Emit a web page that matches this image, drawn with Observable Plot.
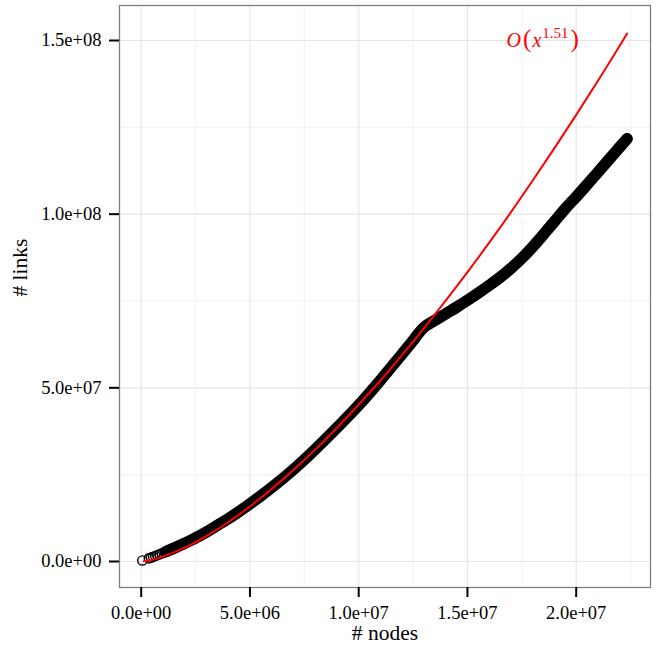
<!DOCTYPE html>
<html><head><meta charset="utf-8">
<script src="https://cdn.jsdelivr.net/npm/d3@7"></script>
<script src="https://cdn.jsdelivr.net/npm/@observablehq/plot@0.6"></script>
<style>body{margin:0;background:#fff}</style>
</head><body><div id="chart"></div>
<script>
// observed data: # nodes vs # links
const nodes = [0.05e6, 0.35e6, 0.45e6, 0.55e6, 0.65e6, 0.75e6, 0.85e6, 0.95e6, 1.1e6, 1.25e6, 1.4e6, 1.6e6, 1.8e6, 2.0e6, 2.25e6, 2.5e6, 2.75e6, 3.0e6, 3.5e6, 4.0e6, 4.5e6, 5.0e6, 5.5e6, 6.0e6, 7.0e6, 8.0e6, 9.0e6, 10.0e6, 11.0e6, 12.0e6, 12.5e6, 12.75e6, 13.0e6, 13.5e6, 14.0e6, 14.5e6, 15.0e6, 15.5e6, 16.0e6, 16.5e6, 17.0e6, 17.5e6, 18.0e6, 18.5e6, 19.0e6, 19.5e6, 20.0e6, 20.5e6, 21.0e6, 21.5e6, 22.0e6, 22.34e6];
const links = [0.3e6, 0.9e6, 1.1e6, 1.35e6, 1.6e6, 1.85e6, 2.1e6, 2.35e6, 2.75e6, 3.15e6, 3.55e6, 4.1e6, 4.65e6, 5.25e6, 6.0e6, 6.8e6, 7.6e6, 8.5e6, 10.4e6, 12.3e6, 14.4e6, 16.6e6, 18.9e6, 21.3e6, 26.5e6, 32.3e6, 38.5e6, 45.0e6, 52.2e6, 59.8e6, 63.6e6, 65.7e6, 67.4e6, 69.4e6, 71.3e6, 73.2e6, 75.2e6, 77.3e6, 79.5e6, 81.8e6, 84.4e6, 87.3e6, 90.6e6, 94.2e6, 97.9e6, 101.6e6, 105.0e6, 108.5e6, 112.1e6, 115.7e6, 119.3e6, 121.7e6];
// fitted O(x^1.51) curve
const fitNodes = [0.12e6, 0.5e6, 1e6, 2e6, 3e6, 4e6, 5e6, 6e6, 7e6, 8e6, 9e6, 10e6, 11e6, 12e6, 13e6, 14e6, 15e6, 16e6, 17e6, 18e6, 19e6, 20e6, 21e6, 22e6, 22.34e6];
const fitLinks = [0.06e6, 0.49e6, 1.4e6, 3.97e6, 7.33e6, 11.3e6, 15.85e6, 20.9e6, 26.35e6, 32.2e6, 38.5e6, 45.2e6, 52.1e6, 59.5e6, 67.1e6, 75.1e6, 83.3e6, 91.8e6, 100.6e6, 109.7e6, 119.0e6, 128.6e6, 138.4e6, 148.5e6, 152.0e6];

const xTicks = [0, 5e6, 1e7, 1.5e7, 2e7];
const xTickLabels = ["0.0e+00", "5.0e+06", "1.0e+07", "1.5e+07", "2.0e+07"];
const yTicks = [0, 5e7, 1e8, 1.5e8];
const yTickLabels = ["0.0e+00", "5.0e+07", "1.0e+08", "1.5e+08"];
const xMinor = [2.5e6, 7.5e6, 1.25e7, 1.75e7, 2.25e7];
const yMinor = [2.5e7, 7.5e7, 1.25e8];
const xLabel = "# nodes";
const yLabel = "# links";
const fitLabel = "O(x^1.51)";
const fitLabelAt = {x: 16.8e6, y: 1.5e8};

const points = nodes.map((x, i) => ({x, y: links[i]}));
const fit = fitNodes.map((x, i) => ({x, y: fitLinks[i]}));

const serif = "'Liberation Serif', 'Times New Roman', serif";

const chart = Plot.plot({
  width: 665, height: 652,
  marginLeft: 119, marginRight: 15, marginTop: 5, marginBottom: 65,
  style: {fontFamily: serif, fontSize: "18.5px", background: "#fff", color: "#000"},
  x: {domain: [-0.998e6, 2.3416e7]},
  y: {domain: [-7.49e6, 1.6008e8]},
  marks: [
    Plot.ruleX(xMinor, {stroke: "#f3f3f3", strokeWidth: 1.2}),
    Plot.ruleY(yMinor, {stroke: "#f3f3f3", strokeWidth: 1.2}),
    Plot.ruleX(xTicks, {stroke: "#e6e6e6", strokeWidth: 1.2}),
    Plot.ruleY(yTicks, {stroke: "#e6e6e6", strokeWidth: 1.2}),
    Plot.line(points, {x: "x", y: "y", filter: d => d.x >= 1e6, stroke: "#000", strokeWidth: 11.5, strokeLinecap: "round", strokeLinejoin: "round", curve: "monotone-x"}),
    Plot.dot(points, {x: "x", y: "y", r: 4.6, stroke: "#000", strokeWidth: 1.4, fill: "none"}),
    Plot.line(fit, {x: "x", y: "y", stroke: "#ff0000", strokeWidth: 2, curve: "catmull-rom"}),
    Plot.text([fitLabel], {x: () => fitLabelAt.x, y: () => fitLabelAt.y, text: d => d, fill: "#ff0000", textAnchor: "start", fontSize: 20}),
    Plot.frame({stroke: "#7f7f7f", strokeWidth: 1.3}),
    Plot.axisX(xTicks, {tickFormat: d => xTickLabels[xTicks.indexOf(d)], tickSize: 10, strokeWidth: 2, tickPadding: 8, label: null, fontSize: 18.5}),
    Plot.axisY(yTicks, {tickFormat: d => yTickLabels[yTicks.indexOf(d)], tickSize: 10, strokeWidth: 2, tickPadding: 8, label: null, fontSize: 18.5}),
    Plot.text([xLabel], {frameAnchor: "bottom", dy: 52, fontSize: 21.5, text: d => d}),
    Plot.text([yLabel], {frameAnchor: "left", dx: -99, rotate: -90, fontSize: 21.5, text: d => d})
  ]
});

// typeset the fit label with italic letters and a superscript exponent
d3.select(chart).selectAll("text").filter(function() { return this.textContent === fitLabel; }).each(function() {
  const t = d3.select(this);
  t.text(null);
  t.append("tspan").attr("font-style", "italic").text("O");
  t.append("tspan").attr("font-size", "25px").attr("dx", 2).text("(");
  t.append("tspan").attr("font-style", "italic").attr("dx", 1).text("x");
  t.append("tspan").attr("font-size", "15px").attr("dy", -8.7).attr("dx", 1).text("1.51");
  t.append("tspan").attr("font-size", "25px").attr("dy", 8.7).attr("dx", 2).text(")");
});

document.getElementById("chart").appendChild(chart);
</script>
</body></html>
